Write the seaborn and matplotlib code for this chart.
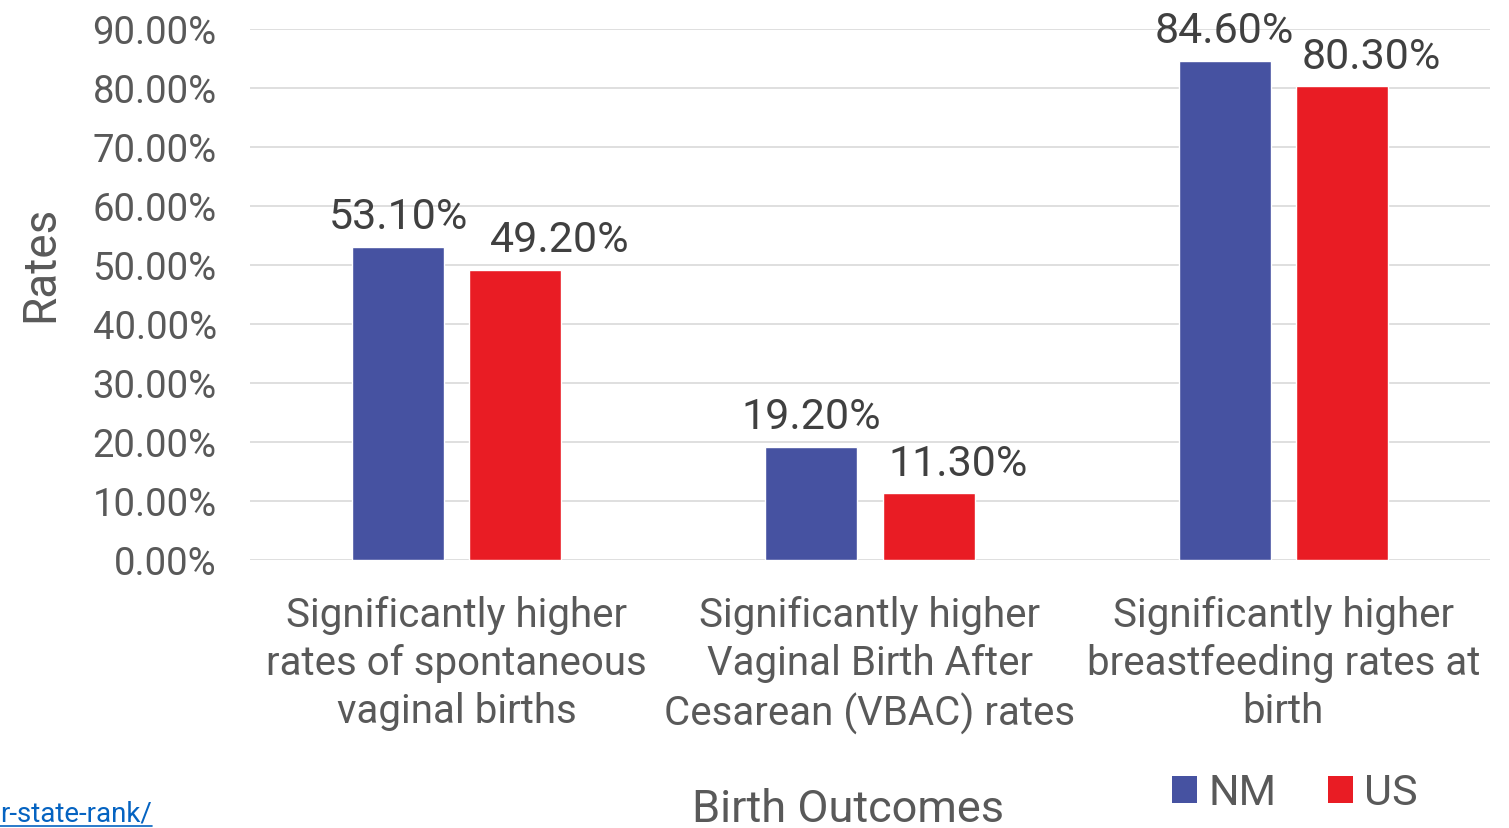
import matplotlib
matplotlib.use("Agg")
import matplotlib.pyplot as plt
from matplotlib.lines import Line2D
from matplotlib.patches import Patch
import seaborn as sns
import pandas as pd

# Data
categories = [
    "Significantly higher\nrates of spontaneous\nvaginal births",
    "Significantly higher\nVaginal Birth After\nCesarean (VBAC) rates",
    "Significantly higher\nbreastfeeding rates at\nbirth",
]
regions = ["NM", "US"]
nm_rates = [53.10, 19.20, 84.60]
us_rates = [49.20, 11.30, 80.30]
y_ticks = [0, 10, 20, 30, 40, 50, 60, 70, 80, 90]
source_link = "r-state-rank/"

colors = {"NM": "#4652A1", "US": "#E91C24"}
text_color = "#595959"
grid_color = "#D9D9D9"

df = pd.DataFrame({
    "category": categories * 2,
    "region": ["NM"] * 3 + ["US"] * 3,
    "rate": nm_rates + us_rates,
})

sns.set_theme(style="white")
plt.rcParams["font.family"] = ["Roboto", "DejaVu Sans"]

fig = plt.figure(figsize=(15.09, 8.29), dpi=100)
ax = fig.add_axes([250 / 1509, 1 - 561 / 829, 1240 / 1509, 531 / 829])

sns.barplot(
    data=df, x="category", y="rate", hue="region", order=categories,
    hue_order=regions, palette=colors, width=0.567, gap=0.214,
    saturation=1, errorbar=None, ax=ax, legend=False,
)

ax.set_xlim(-0.5, 2.5)
ax.set_ylim(0, 90)
ax.set_yticks(y_ticks)
ax.set_yticklabels([f"{v:.2f}%" for v in y_ticks])
ax.grid(axis="y", color=grid_color, linewidth=1.2)
ax.set_axisbelow(True)
for s in ax.spines.values():
    s.set_visible(False)

ax.tick_params(axis="y", length=0, pad=24, labelsize=27.5, labelcolor=text_color)
ax.tick_params(axis="x", length=0, pad=25, labelsize=29, labelcolor=text_color)
for lbl in ax.get_xticklabels():
    lbl.set_linespacing(1.3)

# Value labels above bars
label_shift = {"NM": [0, 0, 0], "US": [31.7, 21, 21]}
for container, region in zip(ax.containers, regions):
    anns = ax.bar_label(container, fmt="{:.2f}%", padding=7, fontsize=31,
                        color="#404040")
    for ann, dx in zip(anns, label_shift[region]):
        ann.xyann = (dx, 7)

ax.set_xlabel("Birth Outcomes", fontsize=32.5, color=text_color)
ax.xaxis.set_label_coords((848 - 250) / 1240, (561 - 789) / 531)
ax.set_ylabel("Rates", fontsize=33, color=text_color)
ax.yaxis.set_label_coords((62 - 250) / 1240, (561 - 264) / 531)

handles = [Patch(facecolor=colors[r], edgecolor="none") for r in regions]
ax.legend(
    handles, regions, loc="center left",
    bbox_to_anchor=(1172 / 1509, 1 - 794 / 829), bbox_transform=fig.transFigure,
    ncol=2, frameon=False, fontsize=31, labelcolor=text_color,
    handlelength=0.58, handleheight=0.58, handletextpad=0.26,
    columnspacing=1.2, borderpad=0, borderaxespad=0,
)

# Source link fragment, underlined
link = fig.text(0, 1 - 822 / 829, source_link, fontsize=20, color="#0563C1",
                ha="left", va="baseline")
fig.canvas.draw()
bb = link.get_window_extent().transformed(fig.transFigure.inverted())
fig.add_artist(Line2D([bb.x0, bb.x1], [1 - 826.5 / 829] * 2,
                      transform=fig.transFigure, color="#0563C1", lw=1.2))

fig.savefig("out.png", dpi=100)
